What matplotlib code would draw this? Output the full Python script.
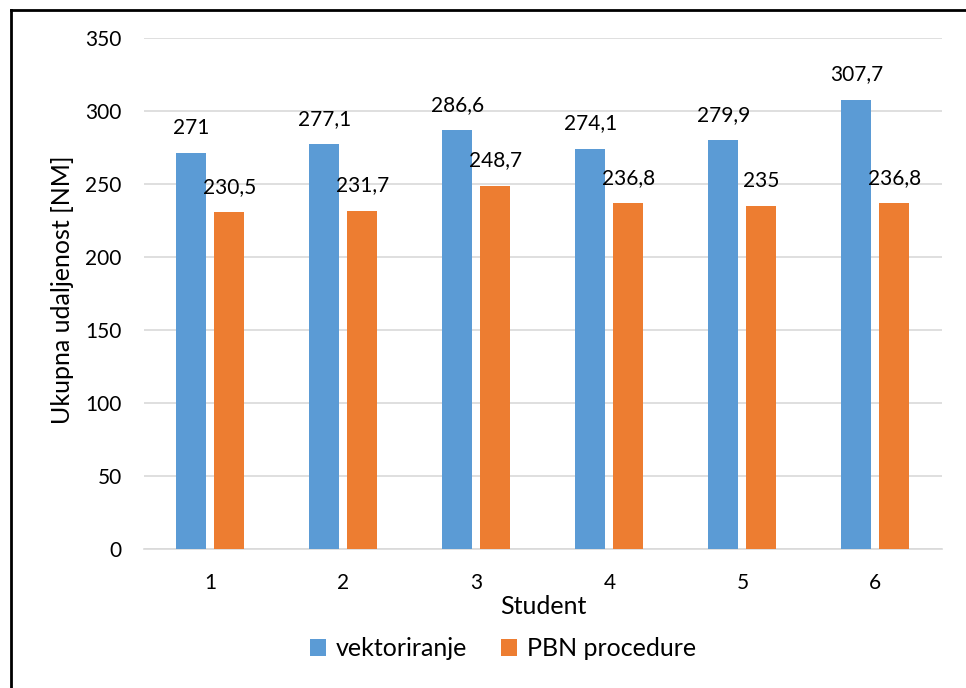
import numpy as np
import matplotlib.pyplot as plt
from matplotlib.lines import Line2D

plt.rcParams['font.family'] = ['Lato', 'DejaVu Sans']

students = ['1', '2', '3', '4', '5', '6']
vektoriranje = [271, 277.1, 286.6, 274.1, 279.9, 307.7]
pbn = [230.5, 231.7, 248.7, 236.8, 235, 236.8]

blue = '#5B9BD5'
orange = '#ED7D31'
fs = 15
fs_big = 18

fig = plt.figure(figsize=(9.66, 6.88), dpi=100)
ax = fig.add_axes([0.149, 0.202, 0.826, 0.743])

x = np.arange(len(students))
w = 0.226
b1 = ax.bar(x - 0.143, vektoriranje, w, color=blue, label='vektoriranje', zorder=3)
b2 = ax.bar(x + 0.143, pbn, w, color=orange, label='PBN procedure', zorder=3)

def fmt(v):
    s = ('%.1f' % v).rstrip('0').rstrip('.')
    return s.replace('.', ',')

for bars, vals in ((b1, vektoriranje), (b2, pbn)):
    for r, v in zip(bars, vals):
        ax.annotate(fmt(v), (r.get_x() + r.get_width() / 2, v),
                    xytext=(0, 11), textcoords='offset points',
                    ha='center', va='bottom', fontsize=fs)

ax.set_xlim(-0.5, 5.5)
ax.set_ylim(0, 350)
ax.set_yticks(range(0, 351, 50))
ax.set_xticks(x)
ax.set_xticklabels(students)
ax.grid(axis='y', color='#D9D9D9', lw=1.2, zorder=0)
for s in ['top', 'right', 'left']:
    ax.spines[s].set_visible(False)
ax.spines['bottom'].set_color('#D9D9D9')
ax.spines['bottom'].set_linewidth(1.2)
ax.tick_params(length=0, labelsize=fs)
ax.tick_params(axis='x', pad=17)
ax.tick_params(axis='y', pad=16)

fig.text(543 / 966, 1 - 607 / 688, 'Student', ha='center', va='center', fontsize=fs_big)
fig.text(63 / 966, 1 - 290 / 688, 'Ukupna udaljenost [NM]', ha='center', va='center',
         rotation=90, fontsize=fs_big)

fig.legend(loc='center', bbox_to_anchor=(503 / 966, 1 - 649 / 688), ncol=2, frameon=False,
           fontsize=fs_big, handlelength=0.65, handleheight=0.65,
           columnspacing=1.35, handletextpad=0.4)

# outer frame (left and top edges visible)
fig.add_artist(Line2D([11 / 966, 11 / 966], [0, 1 - 10 / 688], transform=fig.transFigure,
                      color='black', lw=2))
fig.add_artist(Line2D([11 / 966, 1], [1 - 10 / 688, 1 - 10 / 688], transform=fig.transFigure,
                      color='black', lw=2))

fig.savefig('out.png', dpi=100)
